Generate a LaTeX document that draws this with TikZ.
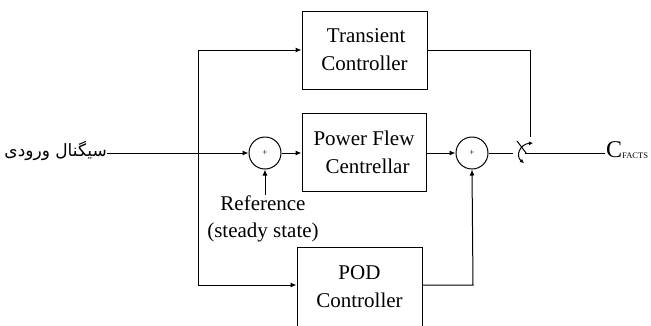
\documentclass[tikz,border=0pt]{standalone}
\usepackage{fontspec}
\setmainfont{Liberation Serif}
\newfontfamily\arabicfont[Script=Arabic]{DejaVu Sans}
\TeXXeTstate=1
\usetikzlibrary{arrows.meta}
\begin{document}
\begin{tikzpicture}[x=1pt,y=-1pt,
 blk/.style={draw, line width=1pt, minimum width=125pt, minimum height=78pt, align=center, font=\fontsize{21}{28}\selectfont, inner sep=0pt},
 sumc/.style={draw, circle, line width=1pt, minimum size=32pt, inner sep=0pt, font=\fontsize{9}{9}\selectfont},
 wire/.style={line width=1pt},
 arr/.style={wire, -{Latex[length=6pt,width=5pt]}},
 lbl/.style={font=\fontsize{21}{27}\selectfont, align=center, inner sep=0pt}]
\useasboundingbox (0,0) rectangle (651,325);
% blocks
\node[blk] (trans) at (364.5,50) {\,Transient\\Controller};
\node[blk, minimum width=124pt] (pfc) at (364,152) {Power Flew\\\,\,Centrellar};
\node[blk, minimum height=80pt] (pod) at (359.5,287) {POD\\Controller};
% summing junctions
\node[sumc] (s1) at (265,153) {+};
\node[sumc] (s2) at (472,153) {+};
% input
\node[anchor=east, inner sep=0pt, font=\fontsize{17}{20}\selectfont] (inp) at (107,151) {\arabicfont\beginR سیگنال ورودی\endR};
% reference label
\node[lbl] (ref) at (263,219) {Reference\\(steady state)};
% output
\node[anchor=base west, inner sep=0pt] (out) at (606,157) {{\fontsize{24}{24}\selectfont C}\raisebox{-1.5pt}{\fontsize{8.5}{9}\selectfont FACTS}};
% coordinates
\coordinate (ltop) at (198,50);
\coordinate (lbot) at (198,285);
\coordinate (swin) at (513,153);
\coordinate (bla) at (517,141);
\coordinate (blb) at (526,153);
\coordinate (tdown) at (530,137);
\coordinate (swout) at (525,153);
\coordinate (outl) at (605,153);
\coordinate (podr) at (422,285);
\coordinate (corner) at (473,285);
% connectors
\draw[arr] (inp.east |- s1) -- (s1.west);
\draw[wire] (ltop) -- (lbot);
\draw[arr] (ltop) -- (trans.west |- ltop);
\draw[arr] (lbot) -- (pod.west |- lbot);
\draw[arr] (s1.east) -- (pfc.west |- s1);
\draw[arr] (pfc.east |- s2) -- (s2.west);
\draw[arr] (ref.north -| s1) ++(0,-1) -- (s1.south);
\draw[arr] (podr) -- (corner) -- (s2.south);
\draw[wire] (s2.east) -- (swin);
\draw[wire] (trans.east |- ltop) -| (tdown);
\draw[wire] (bla) -- (blb);
\draw[wire, {Latex[length=4pt,width=4pt]}-{Latex[length=4pt,width=4pt]}] (524,163) .. controls (515,156) and (520,144) .. (533,143);
\draw[wire] (swout) -- (outl);
\end{tikzpicture}
\end{document}
